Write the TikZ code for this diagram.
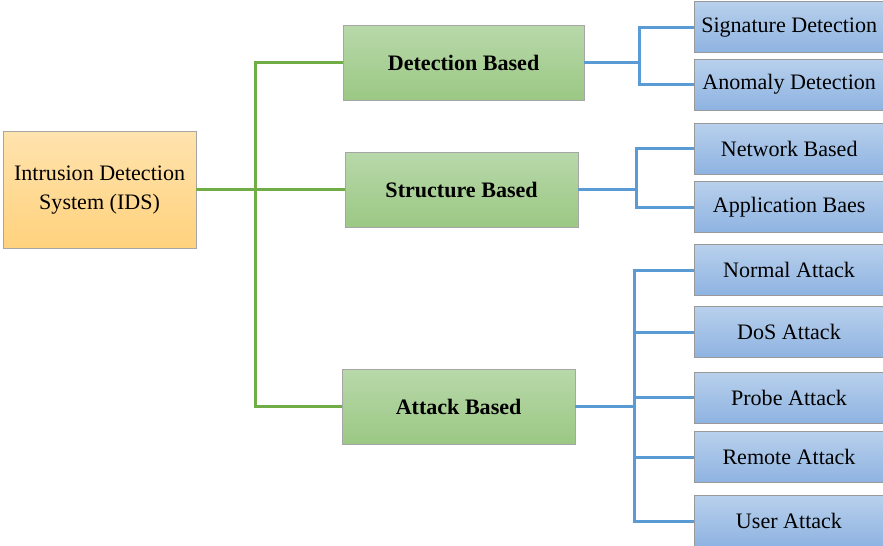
\documentclass[tikz,border=0pt]{standalone}
\usepackage{fontspec}
\setmainfont{Liberation Serif}
\usepackage{tikz}
\usetikzlibrary{shapes.geometric, arrows}
\definecolor{IDS1}{HTML}{FFE3AE}
\definecolor{IDS2}{HTML}{FFD27D}
\definecolor{GRP1}{HTML}{B8D8AA}
\definecolor{GRP2}{HTML}{9BC884}
\definecolor{LEF1}{HTML}{B8D0EC}
\definecolor{LEF2}{HTML}{8EB3E1}
\definecolor{GLINE}{HTML}{70AD47}
\definecolor{BLINE}{HTML}{5B9BD5}
\tikzstyle{root} = [rectangle, minimum width=4.825cm, minimum height=2.925cm, text centered, align=center, draw=black!35, top color=IDS1, bottom color=IDS2, font=\fontsize{15.7}{20.6}\selectfont]
\tikzstyle{group} = [rectangle, minimum width=5.825cm, minimum height=1.875cm, text centered, draw=black!35, top color=GRP1, bottom color=GRP2, font=\fontsize{15.7}{19}\selectfont\bfseries]
\tikzstyle{leaf} = [rectangle, minimum width=4.75cm, minimum height=1.275cm, text centered, draw=black!40, top color=LEF1, bottom color=LEF2, font=\fontsize{15.7}{19}\selectfont]
\tikzstyle{gline} = [line width=2pt, draw=GLINE]
\tikzstyle{bline} = [line width=2pt, draw=BLINE]

\begin{document}
\begin{tikzpicture}[node distance=2cm]

\useasboundingbox (0,0) rectangle (22.075,-13.65);

\node (ids) [root] at (2.49,-4.74) {Intrusion Detection\\System (IDS)};

\node (str) [group, right of=ids, xshift=7.05cm] {Structure Based};
\node (det) [group, above of=str, minimum width=6.025cm, xshift=0.05cm, yshift=1.175cm] {Detection Based};
\node (att) [group, below of=str, xshift=-0.075cm, yshift=-3.425cm] {Attack Based};

\node (sig) [leaf, right of=det, xshift=6.14cm, yshift=0.8875cm] {Signature Detection};
\node (ano) [leaf, below of=sig, yshift=0.5625cm] {Anomaly Detection};

\node (net) [leaf, right of=str, xshift=6.19cm, yshift=1.025cm] {Network Based};
\node (app) [leaf, below of=net, yshift=0.5375cm] {Application Baes};

\node (nor) [leaf, right of=att, xshift=6.26cm, yshift=3.41cm] {Normal Attack};
\node (dos) [leaf, below of=nor, yshift=0.45cm] {DoS Attack};
\node (pro) [leaf, below of=dos, yshift=0.3625cm] {Probe Attack};
\node (rem) [leaf, below of=pro, yshift=0.5125cm] {Remote Attack};
\node (usr) [leaf, below of=rem, yshift=0.4cm] {User Attack};

% green tree
\draw [gline] (ids.east) -- (str.west);
\draw [gline] (ids.east) -- ++(1.475,0) |- (det.west);
\draw [gline] (ids.east) -- ++(1.475,0) |- (att.west);

% blue tree
\draw [bline] (det.east) -- ++(1.375,0) |- (sig.west);
\draw [bline] (det.east) -- ++(1.375,0) |- (ano.west);

\draw [bline] (str.east) -- ++(1.45,0) |- (net.west);
\draw [bline] (str.east) -- ++(1.45,0) |- (app.west);

\draw [bline] (att.east) -- ++(1.475,0) |- (nor.west);
\draw [bline] (att.east) -- ++(1.475,0) |- (dos.west);
\draw [bline] (att.east) -- ++(1.475,0) |- (pro.west);
\draw [bline] (att.east) -- ++(1.475,0) |- (rem.west);
\draw [bline] (att.east) -- ++(1.475,0) |- (usr.west);

\end{tikzpicture}
\end{document}
